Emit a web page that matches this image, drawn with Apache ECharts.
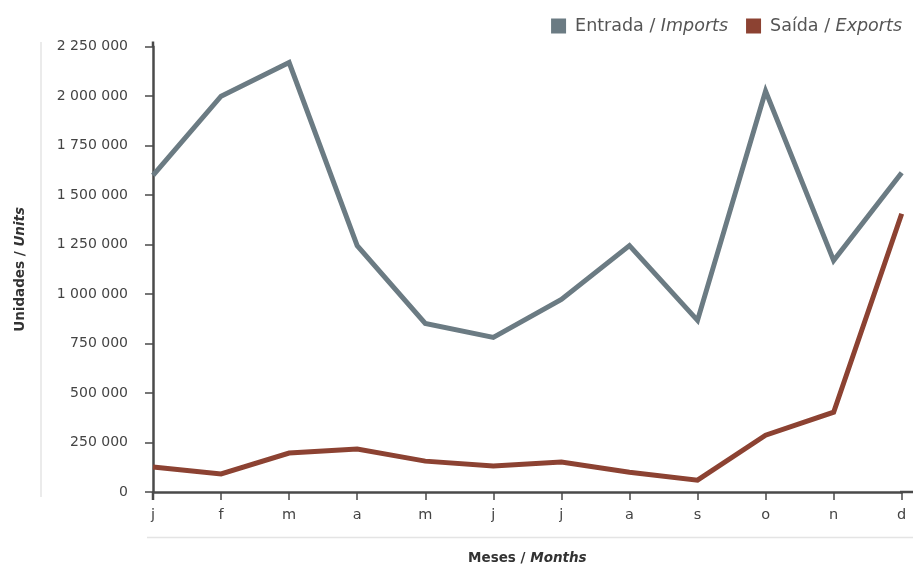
<!DOCTYPE html>
<html><head><meta charset="utf-8">
<script src="https://cdn.jsdelivr.net/npm/echarts@6/dist/echarts.min.js"></script>
<style>html,body{margin:0;padding:0;background:#fff}#c{width:913px;height:564px}</style>
</head><body><div id="c"></div>
<script>
const months = ['j','f','m','a','m','j','j','a','s','o','n','d'];
const imports = [1600000, 2000000, 2170000, 1245000, 852000, 781000, 973000, 1245000, 867000, 2026000, 1169000, 1613000];
const exports = [126000, 91000, 197000, 217000, 156000, 131000, 151000, 100000, 60000, 287000, 403000, 1406000];
const seriesNames = ['Entrada / Imports', 'Saída / Exports'];
const yTickStep = 250000;
const yMax = 2250000;

const FONT = 'DejaVu Sans';
const axisColor = '#4a4a4a';
const chart = echarts.init(document.getElementById('c'), null, {renderer: 'canvas'});
function fmt(v){ return String(v).replace(/\B(?=(\d{3})+(?!\d))/g, ' '); }
chart.setOption({
  animation: false,
  textStyle: {fontFamily: FONT},
  grid: {left: 153, right: 11.3, top: 46.7, bottom: 72, containLabel: false, outerBoundsMode: 'none'},
  legend: {
    right: 6, top: 12, itemWidth: 15, itemHeight: 15, itemGap: 18,
    icon: 'rect',
    formatter: function(n){ const p = n.split(' / '); return '{a|' + p[0] + ' / }{b|' + p[1] + '}'; },
    textStyle: {
      color: '#555', fontSize: 17.5, fontFamily: FONT,
      rich: {a: {fontSize: 17.5, color: '#555', fontFamily: FONT, padding: [0, 0, 0, 4]}, b: {fontSize: 17.5, color: '#555', fontStyle: 'italic', fontFamily: FONT}}
    },
    data: seriesNames
  },
  xAxis: {
    type: 'category', data: months, boundaryGap: false,
    axisLine: {lineStyle: {color: axisColor, width: 2.5}},
    axisTick: {alignWithLabel: true, length: 8, lineStyle: {color: axisColor, width: 1.5}},
    axisLabel: {color: '#444', fontSize: 14.5, margin: 16, fontFamily: FONT},
    name: '{a|Meses / }{b|Months}', nameLocation: 'middle', nameGap: 59,
    nameTextStyle: {rich: {
      a: {fontSize: 13.5, fontWeight: 'bold', color: '#333', fontFamily: FONT},
      b: {fontSize: 13.5, fontWeight: 'bold', fontStyle: 'italic', color: '#333', fontFamily: FONT}}}
  },
  yAxis: {
    type: 'value', min: 0, max: yMax, interval: yTickStep,
    splitLine: {show: false},
    axisLine: {show: true, lineStyle: {color: axisColor, width: 2.5}},
    axisTick: {show: true, length: 8, lineStyle: {color: axisColor, width: 1.5}},
    axisLabel: {color: '#444', fontSize: 14, margin: 25, formatter: fmt, fontFamily: FONT},
    name: '{a|Unidades / }{b|Units}', nameLocation: 'middle', nameRotate: 90, nameGap: 126,
    nameTextStyle: {rich: {
      a: {fontSize: 13.5, fontWeight: 'bold', color: '#333', fontFamily: FONT},
      b: {fontSize: 13.5, fontWeight: 'bold', fontStyle: 'italic', color: '#333', fontFamily: FONT}}}
  },
  graphic: [
    {type: 'line', shape: {x1: 41, y1: 42, x2: 41, y2: 497}, style: {stroke: '#e4e4e4', lineWidth: 1.5}},
    {type: 'line', shape: {x1: 147, y1: 537.5, x2: 913, y2: 537.5}, style: {stroke: '#e4e4e4', lineWidth: 1.5}},
    {type: 'line', shape: {x1: 153, y1: 41.5, x2: 153, y2: 47}, style: {stroke: axisColor, lineWidth: 2.5}},
    {type: 'line', shape: {x1: 900, y1: 492, x2: 913, y2: 492}, style: {stroke: axisColor, lineWidth: 2.5}},
    {type: 'line', shape: {x1: 153, y1: 492, x2: 153, y2: 500}, style: {stroke: axisColor, lineWidth: 2.5}}
  ],
  series: [
    {name: seriesNames[0], type: 'line', data: imports, symbol: 'none', lineStyle: {width: 5, color: '#6b7b83', join: 'miter'}, itemStyle: {color: '#6b7b83'}},
    {name: seriesNames[1], type: 'line', data: exports, symbol: 'none', lineStyle: {width: 5, color: '#8c4232', join: 'miter'}, itemStyle: {color: '#8c4232'}}
  ]
});
</script></body></html>
